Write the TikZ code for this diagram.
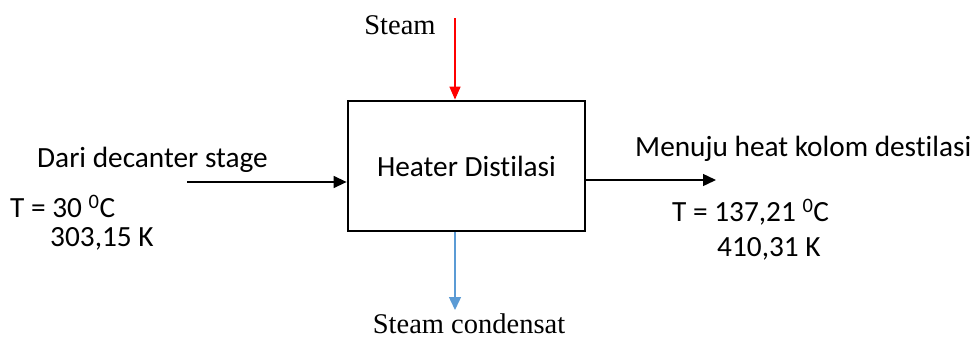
\documentclass[tikz,border=0pt]{standalone}
\usepackage{fontspec}
\setmainfont{Carlito}[Ligatures={NoCommon}]
\newfontfamily\timesfont{Liberation Serif}
\usetikzlibrary{arrows.meta}
\definecolor{steamred}{RGB}{255,0,0}
\definecolor{condblue}{RGB}{91,155,213}
\tikzset{
  lbl/.style={inner sep=0pt, font=\fontsize{29.3}{35}\selectfont},
  tlbl/.style={inner sep=0pt, font=\timesfont\fontsize{28.5}{34}\selectfont},
  flow/.style={line width=1.4pt, -{Triangle[length=13pt,width=12pt]}},
  boxstyle/.style={draw, line width=2.8pt, minimum width=237pt, minimum height=130pt, inner sep=0pt}
}
\begin{document}
\begin{tikzpicture}[x=1pt,y=-1pt]
\useasboundingbox (0,0) rectangle (975,338);
\node[boxstyle, lbl] (box) at (466.5,166) {Heater Distilasi};
% steam in
\coordinate (steamtop) at (455,18);
\draw[flow, draw=steamred, fill=steamred, -{Triangle[length=13pt,width=11pt]}] (steamtop) -- (box.north -| steamtop);
\node[tlbl] (steam) at (400,25) {Steam};
% condensate out
\coordinate (condend) at (455,310);
\draw[flow, draw=condblue, fill=condblue, -{Triangle[length=13pt,width=12pt]}] (box.south -| condend) -- (condend);
\node[tlbl] (cond) at (469,324) {Steam condensat};
% feed in
\coordinate (feedstart) at (187,182);
\draw[flow] (feedstart) -- (box.west |- feedstart);
\node[lbl, anchor=west] (dari) at (37,160) {Dari decanter stage};
\node[lbl, anchor=west] (t1) at (10,206) {T = 30 \textsuperscript{0}C};
\node[lbl, anchor=west] (k1) at (50,239) {303,15 K};
% product out
\coordinate (prodend) at (716,180);
\draw[flow] (box.east |- prodend) -- (prodend);
\node[lbl, anchor=west] (menuju) at (635,149) {Menuju heat kolom destilasi};
\node[lbl, anchor=west] (t2) at (672,212) {T = 137,21 \textsuperscript{0}C};
\node[lbl, anchor=west] (k2) at (717,249) {410,31 K};
\end{tikzpicture}
\end{document}
